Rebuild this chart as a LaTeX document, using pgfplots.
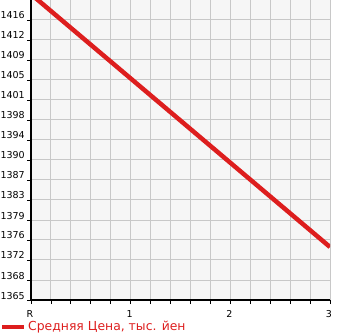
\documentclass[border=0pt]{standalone}
\usepackage{pgfplots}
\pgfplotsset{compat=1.18}
\usepackage{fontspec}
\setmainfont{DejaVu Sans}
\definecolor{lred}{RGB}{221,30,30}
\definecolor{bg}{RGB}{246,246,246}
\definecolor{gridc}{RGB}{200,200,200}
\begin{document}
\begin{tikzpicture}
\path[use as bounding box] (0,0) rectangle (345pt,335pt);
\begin{axis}[
  at={(31pt,35pt)}, anchor=south west,
  scale only axis, width=299pt, height=300pt,
  xmin=0, xmax=3, ymin=1365, ymax=1419.64,
  axis background/.style={fill=bg},
  axis x line*=bottom, axis y line*=left,
  axis line style={line width=2pt, -},
  xtick={0,1,2,3}, xticklabels={R,1,2,3},
  minor x tick num=4,
  ytick={1365,1368.643,1372.286,1375.929,1379.571,1383.214,1386.857,1390.5,1394.143,1397.786,1401.429,1405.071,1408.714,1412.357,1416},
  yticklabels={1365,1368,1372,1376,1379,1383,1387,1390,1394,1398,1401,1405,1409,1412,1416},
  grid=both,
  major grid style={gridc, line width=1pt},
  minor grid style={gridc, line width=1pt},
  tick style={black, line width=0.8pt},
  tick align=outside, major tick length=4pt, minor tick length=4pt,
  yticklabel style={font=\fontsize{9.5}{10}\selectfont, anchor=base east, inner sep=0pt, xshift=-2pt, yshift=1pt},
  xticklabel style={font=\fontsize{9.5}{10}\selectfont, anchor=north, inner sep=0pt, yshift=-6pt, xshift=-1pt},
  /pgf/number format/assume math mode=true,
  clip=true,
  legend style={at={(0,0)}, anchor=north west, xshift=-31pt, yshift=-19pt, draw=none, fill=none, font=\fontsize{12.4}{12.4}\selectfont, text=lred, inner sep=0pt},
  legend cell align=left,
  legend image code/.code={\draw[line width=4pt, lred] (-2pt,0pt) -- (20pt,0pt);},
]
\addplot[lred, line width=4.5pt] coordinates {(0,1420.7) (1,1405.35) (2,1390.0) (3,1374.65)};
\addlegendentry{Средняя Цена, тыс. йен}
\end{axis}
\end{tikzpicture}
\end{document}
